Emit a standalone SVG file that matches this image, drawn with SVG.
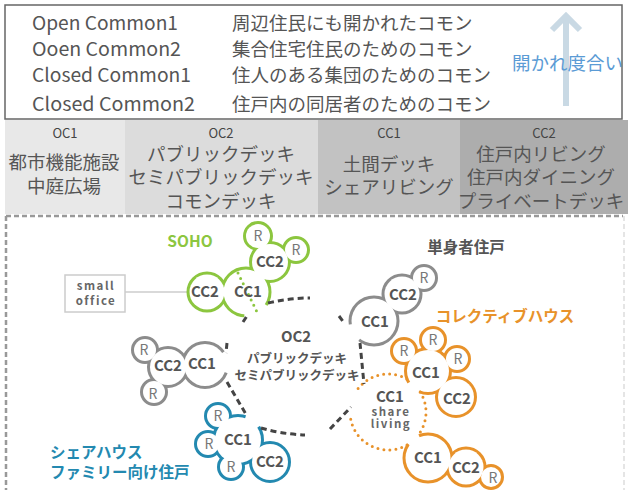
<svg xmlns="http://www.w3.org/2000/svg" xmlns:xlink="http://www.w3.org/1999/xlink" width="628" height="490" viewBox="0 0 628 490">
<style>
text{font-family:"Noto Sans CJK JP","Noto Sans",sans-serif}
.row{font-size:19px;fill:#555}
.jp{font-size:18.5px;fill:#555}
.hd{font-size:13px;fill:#444;text-anchor:middle}
.cell{font-size:18.5px;fill:#555;text-anchor:middle}
.ol{stroke-width:6;fill:none}
.wf{fill:#fff;stroke:none}
.g{stroke:#8cc63f}.o{stroke:#e8922a}.b{stroke:#2389b0}.k{stroke:#8c8c8c}
.er{fill:#fff;stroke:none}
.cc{font-size:15px;font-weight:bold;fill:#555;text-anchor:middle}
.r{font-size:14px;fill:#777;text-anchor:middle}
.dash{stroke:#444;stroke-width:3;stroke-dasharray:6 4;fill:none}
.dot{stroke-width:3;stroke-dasharray:0 6;stroke-linecap:round;fill:none}
.lbl{font-weight:bold;font-size:15.5px}
.sm{font-size:11.5px;font-weight:bold;fill:#666;text-anchor:middle;letter-spacing:1.5px}
</style>
<defs>
<g id="c-soho"><circle cx="258" cy="236" r="12"/><circle cx="296" cy="250" r="11"/><circle cx="270" cy="262" r="18"/><circle cx="246" cy="292" r="22.5"/><circle cx="207" cy="292" r="17.5"/></g>
<g id="c-single"><circle cx="424" cy="278" r="11"/><circle cx="402" cy="294" r="17.5"/><circle cx="374" cy="321" r="22.5"/></g>
<g id="c-family"><circle cx="145" cy="350" r="11"/><circle cx="154" cy="392" r="11"/><circle cx="168" cy="367" r="18"/><circle cx="205" cy="365" r="21"/></g>
<g id="c-share"><circle cx="218" cy="416" r="11"/><circle cx="208" cy="444" r="11"/><circle cx="231" cy="467" r="11"/><circle cx="238" cy="440" r="23"/><circle cx="270" cy="462" r="18"/></g>
<g id="c-col1"><circle cx="404" cy="351" r="11"/><circle cx="433" cy="340" r="11"/><circle cx="457" cy="359" r="11"/><circle cx="428" cy="371" r="21"/><circle cx="456" cy="397" r="18"/></g>
<g id="c-col2"><circle cx="428" cy="458" r="22.5"/><circle cx="466" cy="467" r="17.5"/><circle cx="491" cy="477" r="10"/></g>
</defs>

<g id="legend">
<rect x="5" y="5" width="617" height="114" fill="#fff" stroke="#666" stroke-width="1.5"/>
<line x1="566" y1="18" x2="566" y2="106" stroke="#c9d9e4" stroke-width="6"/>
<polyline points="552,30 566,16 580,30" fill="none" stroke="#c9d9e4" stroke-width="6"/>
<text class="row" x="32" y="30" textLength="146" lengthAdjust="spacingAndGlyphs">Open Common1</text>
<text class="row" x="32" y="56" textLength="149" lengthAdjust="spacingAndGlyphs">Ooen Common2</text>
<text class="row" x="32" y="82" textLength="159" lengthAdjust="spacingAndGlyphs">Closed Common1</text>
<text class="row" x="32" y="111" textLength="163" lengthAdjust="spacingAndGlyphs">Closed Common2</text>
<text class="jp" x="232" y="30">周辺住民にも開かれたコモン</text>
<text class="jp" x="232" y="56">集合住宅住民のためのコモン</text>
<text class="jp" x="232" y="82">住人のある集団のためのコモン</text>
<text class="jp" x="232" y="111">住戸内の同居者のためのコモン</text>
<text x="512" y="70" font-size="18.5" fill="#5b9bd5">開かれ度合い</text>
</g>

<g id="header">
<rect x="5" y="120" width="120" height="94" fill="#e8e8e8"/>
<rect x="125" y="120" width="193" height="94" fill="#dcdcdc"/>
<rect x="318" y="120" width="142" height="94" fill="#c2c2c2"/>
<rect x="460" y="120" width="168" height="94" fill="#adadad"/>
<text class="hd" x="65" y="138">OC1</text>
<text class="hd" x="221" y="138">OC2</text>
<text class="hd" x="389" y="138">CC1</text>
<text class="hd" x="544" y="138">CC2</text>
<text class="cell" x="64" y="169">都市機能施設</text>
<text class="cell" x="64" y="193">中庭広場</text>
<text class="cell" x="221" y="161">パブリックデッキ</text>
<text class="cell" x="221" y="184">セミパブリックデッキ</text>
<text class="cell" x="221" y="208">コモンデッキ</text>
<text class="cell" x="389" y="171">土間デッキ</text>
<text class="cell" x="389" y="194">シェアリビング</text>
<text class="cell" x="541" y="161">住戸内リビング</text>
<text class="cell" x="541" y="184">住戸内ダイニング</text>
<text class="cell" x="541" y="208">プライベートデッキ</text>
</g>

<g id="frame" fill="none">
<line x1="6" y1="216" x2="623" y2="216" stroke="#999" stroke-width="2.5" stroke-dasharray="5 3"/>
<line x1="6" y1="216" x2="6" y2="490" stroke="#999" stroke-width="2.5" stroke-dasharray="5 3"/>
<line x1="624" y1="216" x2="624" y2="490" stroke="#ddd" stroke-width="1.5" stroke-dasharray="5 3"/>
</g>

<g id="small-office">
<line x1="125" y1="292" x2="192" y2="292" stroke="#ccc" stroke-width="1.5"/>
<rect x="65" y="275" width="60" height="37" fill="#fff" stroke="#ccc" stroke-width="1.5"/>
<text class="sm" x="96" y="290">small</text>
<text class="sm" x="96" y="305">office</text>
</g>

<g id="soho">
<use xlink:href="#c-soho" class="ol g"/>
<use xlink:href="#c-soho" class="wf"/>
<path class="er" d="M246 292 L271.2 308.3 A30 30 0 0 1 243.9 321.9 Z"/>
<line x1="238" y1="273" x2="257" y2="312" class="dot g" stroke-dasharray="0 5"/>
<text class="r" x="258" y="241">R</text>
<text class="r" x="296" y="255">R</text>
<text class="cc" x="270" y="267">CC2</text>
<text class="cc" x="205" y="297">CC2</text>
<text class="cc" x="248" y="297">CC1</text>
<text class="lbl" x="190" y="247" font-size="16" fill="#8cc63f" text-anchor="middle">SOHO</text>
</g>

<g id="single">
<use xlink:href="#c-single" class="ol k"/>
<use xlink:href="#c-single" class="wf"/>
<path class="er" d="M374 321 L355.5 344.6 A30 30 0 0 1 344.3 325.2 Z"/>
<text class="r" x="424" y="283">R</text>
<text class="cc" x="403" y="300">CC2</text>
<text class="cc" x="375" y="327">CC1</text>
<text class="lbl" x="466" y="253" fill="#555" text-anchor="middle">単身者住戸</text>
</g>

<g id="family">
<use xlink:href="#c-family" class="ol k"/>
<use xlink:href="#c-family" class="wf"/>
<path class="er" d="M205 365 L227.9 348.9 A28 28 0 0 1 231.3 374.6 Z"/>
<text class="r" x="144" y="355">R</text>
<text class="r" x="153" y="399">R</text>
<text class="cc" x="168" y="371">CC2</text>
<text class="cc" x="202" y="369">CC1</text>
</g>

<g id="sharehouse">
<use xlink:href="#c-share" class="ol b"/>
<use xlink:href="#c-share" class="wf"/>
<path class="er" d="M238 440 L247.3 411.5 A30 30 0 0 1 263.2 423.7 Z"/>
<text class="r" x="218" y="421">R</text>
<text class="r" x="209" y="449">R</text>
<text class="r" x="231" y="472">R</text>
<text class="cc" x="238" y="445">CC1</text>
<text class="cc" x="270" y="467">CC2</text>
<text class="lbl" x="50" y="458" fill="#2389b0">シェアハウス</text>
<text class="lbl" x="50" y="478" fill="#2389b0">ファミリー向け住戸</text>
</g>

<g id="collective">
<use xlink:href="#c-col1" class="ol o"/>
<use xlink:href="#c-col1" class="wf"/>
<path class="er" d="M428 371 L417.1 396.8 A28 28 0 0 1 404 385.4 Z"/>
<use xlink:href="#c-col2" class="ol o"/>
<use xlink:href="#c-col2" class="wf"/>
<path class="er" d="M428 458 L403.4 440.8 A30 30 0 0 1 416.8 430.2 Z"/>
<path class="dot o" d="M358.1 388.6 A38 38 0 0 1 408.1 379.8 M420.2 391.9 A38 38 0 0 1 418.4 434.9 M407 444.9 A38 38 0 0 1 350.1 414"/>
<text class="r" x="404" y="356">R</text>
<text class="r" x="433" y="345">R</text>
<text class="r" x="458" y="364">R</text>
<text class="cc" x="426" y="378">CC1</text>
<text class="cc" x="457" y="404">CC2</text>
<text class="cc" x="428" y="463">CC1</text>
<text class="cc" x="466" y="473">CC2</text>
<text class="r" x="493" y="483">R</text>
<text class="cc" x="390" y="402">CC1</text>
<text class="sm" x="391" y="416" font-size="10.5">share</text>
<text class="sm" x="391" y="428" font-size="10.5">living</text>
<text class="lbl" x="505" y="322" fill="#e8922a" text-anchor="middle">コレクティブハウス</text>
</g>

<g id="oc2">
<text class="cc" x="296" y="342">OC2</text>
<text x="297" y="363" font-size="12.5" font-weight="bold" fill="#555" text-anchor="middle">パブリックデッキ</text>
<text x="297" y="380" font-size="12.5" font-weight="bold" fill="#555" text-anchor="middle">セミパブリックデッキ</text>
</g>

<g id="connectors">
<path class="dash" d="M268 303 Q289 298 310 298"/>
<path class="dash" d="M243 322 L247 316"/>
<path class="dash" d="M339 316 L345 324"/>
<path class="dash" d="M360 343 L364 384"/>
<path class="dash" d="M227 343 L226 353"/>
<path class="dash" d="M227 382 L247 416"/>
<path class="dash" d="M261 428 Q281 434 305 435"/>
<path class="dash" d="M330 429 L351 407"/>
</g>
</svg>
